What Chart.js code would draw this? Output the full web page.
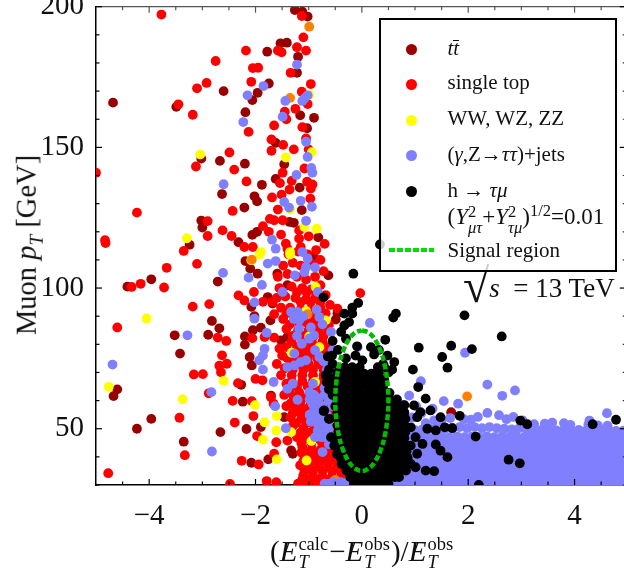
<!DOCTYPE html>
<html>
<head>
<meta charset="utf-8">
<title>Muon pT vs MET fraction</title>
<script src="https://cdn.jsdelivr.net/npm/chart.js@4/dist/chart.umd.min.js"></script>
<style>
  html, body { margin: 0; padding: 0; background: #fff; overflow: hidden; }
  #wrap { position: relative; width: 624px; height: 573px; overflow: hidden; font-family: 'Liberation Serif', serif; color: #111; }
  #plot { position: absolute; left: 0; top: 0; }
  .abs { position: absolute; white-space: nowrap; line-height: 1; }
  #legend { position: absolute; left: 379px; top: 18px; width: 234px; height: 250px; border: 2.5px solid #000; background: rgba(255,255,255,0.8); }
  .dot { position: absolute; width: 11px; height: 11px; border-radius: 50%; left: 25px; }
  .row { position: absolute; left: 66.5px; font-size: 21px; line-height: 1; white-space: nowrap; }
  .dash { position: absolute; left: 8px; top: 228px; width: 45px; height: 4px; background: repeating-linear-gradient(90deg, #00dd00 0, #00dd00 6px, transparent 6px, transparent 8px); }
  .stack { display: inline-block; vertical-align: -0.5em; font-size: 0.72em; line-height: 0.95; text-align: left; }
  .stack span { display: block; }
  .big { font-size: 18.5px; vertical-align: -7px; margin-left: 1px; margin-right: 1px; }
  .met { position: relative; display: inline-block; }
  .met b { position: absolute; left: 2px; top: 0; font-weight: normal; font-style: normal; }
  .bar { display: inline-block; line-height: 0.72; border-top: 1px solid #111; }
  sup { font-size: 0.72em; line-height: 0; }
  sub { font-size: 0.68em; line-height: 0; }
</style>
</head>
<body>
<div id="wrap">
  <canvas id="plot" width="624" height="573"></canvas>

  <div class="abs" id="ytitle" style="left:27px;top:245px;font-size:28.5px;transform:translate(-50%,-50%) rotate(-90deg);"></div>
  <div class="abs" id="xtitle" style="left:270px;top:536px;font-size:29px;"></div>
  <div class="abs" id="energy" style="left:463px;top:275px;font-size:27px;"><span style="font-size:48px;line-height:0;position:relative;top:5px;">√</span><i>s</i>&nbsp; = 13 TeV</div>

  <div id="legend">
    <span class="dot" style="top:24px;background:#990000"></span><div class="row" style="top:18px"><i>t<span class="bar">t</span></i></div>
    <span class="dot" style="top:59px;background:#ff0000"></span><div class="row" style="top:52px">single top</div>
    <span class="dot" style="top:95px;background:#ffff00"></span><div class="row" style="top:88px">WW, WZ, ZZ</div>
    <span class="dot" style="top:130px;background:#8080ff"></span><div class="row" style="top:124px">(<i>γ</i>,Z→<i>ττ</i>)+jets</div>
    <span class="dot" style="top:166px;background:#000"></span><div class="row" style="top:160px">h → <i>τμ</i></div>
    <div class="row" style="top:184px;font-size:23px">(<i>Y</i><span class="stack"><span>2</span><span><i>μτ</i></span></span>+<i>Y</i><span class="stack"><span>2</span><span><i>τμ</i></span></span>)<sup>1/2</sup>=0.01</div>
    <span class="dash"></span><div class="row" style="top:220px">Signal region</div>
  </div>
</div>

<script>
// Axis setup
var xRange = [-5, 4.93];
var yRange = [30, 200];
var xTickValues = [-4, -2, 0, 2, 4];
var yTickValues = [50, 100, 150, 200];
var xMinorTicks = [-4.5, -3.5, -3, -2.5, -1.5, -1, -0.5, 0.5, 1, 1.5, 2.5, 3, 3.5, 4.5];
var yMinorTicks = [30, 40, 60, 70, 80, 90, 110, 120, 130, 140, 160, 170, 180, 190];

// Points as [x, y]
var ttbar = [
  [-4.68,165.9],[-3.49,164.4],[-2.6,170],[-2.67,145.2],[-2.2,144.2],[-3.02,146],[-1.88,136.7],[-2.63,133.4],
  [-2.02,132.6],[-1.97,130.8],[-2.21,128.6],[-3.02,124],[-3,121.5],[-3.24,115.4],[-2.32,116.3],[-2.06,118.9],
  [-1.97,120],[-1.53,187],[-1.41,187.2],[-1.78,184],[-1.2,182.2],[-1.26,198.8],[-1.12,198.2],[-1.02,196.5],
  [-1.22,176.5],[-1.75,172.7],[-1.96,169.4],[-2.06,166.8],[-2.19,162.5],[-1.16,161.4],[-0.9,160.5],[-1.03,156.8],
  [-1.62,151.6],[-1.46,144],[-1.62,138.8],[-1.17,135.7],[-1.13,127.7],[-1.28,123.2],[-1.36,123.5],[-0.82,118],
  [-2.71,102.3],[-3.96,103.1],[-4.41,100.5],[-0.63,104.5],[-2.82,88.3],[-2.68,85.7],[-3.52,83.2],[-2.89,83.4],
  [-3.42,76.7],[-4.6,64],[-4.67,61.6],[-3.96,53.5],[-4.23,50],[-3.35,45.4],[-2.66,48.8],[-2.17,49.9],
  [-2.24,59.6],[-2.27,65.6],[-2.08,37.9],[-1.76,39.1],[-1.33,42.3],[-1.3,41.1],[-2.19,109.6],[-2.1,106.9],
  [-1.96,105.1],[-1.59,105.1],[-1.4,101],[-1.77,96.8],[-1.68,94.5],[-2.08,93.3],[-2.02,90],[-1.72,88.5],
  [-2.05,85],[-1.9,85.9],[-2.2,82.8],[-2.2,79.9],[-2.11,75.5],[-2.07,72.5],[-0.49,88.8],[-1.52,81.4],
  [-1.4,82.6],[-1.71,61.8],[-1.9,50.6],[-0.9,111],[-1.46,54.1],[-0.77,38.7],[1.68,55.9],[-0.46,91]
];
var singleTop = [
  [-3.77,197.2],[-2.18,184.4],[-2.75,180.7],[-1.58,184.4],[-1.51,183.8],[-1.22,185.6],[-1.05,184.4],[-1.1,189.1],
  [-1.13,196.7],[-2.05,178.2],[-1.95,178.3],[-1.34,176.5],[-2.08,173.3],[-2.92,172.9],[-3.1,171],[-0.96,172.5],
  [-1.13,169.8],[-3.45,165.3],[-3.18,161.6],[-1.02,165.4],[-1.25,163.7],[-1.45,162.7],[-1.42,160],[-1.65,157.8],
  [-1.12,157.2],[-2.13,155.5],[-1.7,152.8],[-1.48,150.9],[-1.28,149.3],[-1.7,148.8],[-1.05,153.2],[-1,149.3],
  [-2.49,148.2],[-3.12,143.2],[-2.4,142.1],[-1.49,141],[-1.08,142.5],[-2.17,137.9],[-1.32,138.1],[-1.54,137.3],
  [-1.03,137.8],[-0.93,136.8],[-1.36,135],[-1.51,133.2],[-0.96,135.4],[-1.69,132.2],[-0.97,131.8],[-2.43,127.4],
  [-1.58,127.9],[-4.23,126.8],[-1.73,124.6],[-1.65,124.1],[-1.49,124.1],[-2.9,123.8],[-1.86,122],[-2.62,120.5],
  [-1.75,120],[-2.9,118.5],[-2.45,118.5],[-1.52,119],[-1,118.4],[-1.18,117.6],[-0.7,115.7],[-1.43,115.8],
  [-2.21,114.6],[-2.05,114.6],[-3.35,113.2],[-4.83,117],[-4.82,116],[-5,141],[-1.18,120.5],[-1.15,114.6],[-1.4,114],
  [-3.1,108.6],[-3.67,107.2],[-4.33,100.4],[-4.16,101.5],[-3.72,100.2],[-3.18,93.4],[-2.87,94.3],[-4.6,86],
  [-2.71,82.4],[-2.55,81.2],[-2.06,82.2],[-2.63,76.1],[-2.68,72.4],[-2.54,73.1],[-3.16,69.3],[-2.99,69.4],
  [-2.65,70.1],[-2.33,66.2],[-2.88,62.6],[-2.43,59.9],[-2,67.7],[-1.87,67.2],[-2.07,59.8],[-2.04,54.5],
  [-3.43,53.9],[-2.39,52.2],[-1.97,47.4],[-3.33,40.6],[-4.77,34.2],[-2.26,38.6],[-1.94,37.3],[-2.48,30.4],
  [-1.79,31.4],[-1.61,31],[-2.32,97.4],[-2.21,95.6],[-2.03,98.6],[-1.86,95.1],[-1.68,95.1],[-1.65,90.7],
  [-1.83,82.6],[-1.65,82.4],[-1.71,61.2],[-1.66,58.9],[-1.61,45.2],[-1.65,41.1],[-1.4,45.8],[-0.03,98.2],[-0.46,92.7],
  // dense column
  [-1.38,112],[-1.2,113],[-1.02,112],[-0.86,113.5],[-1.48,108],[-1.3,109],[-1.15,108],[-0.92,108.5],[-0.78,110],
  [-1.58,104],[-1.4,105],[-1.22,104],[-1.05,103],[-0.88,104],[-0.72,106],[-1.55,100],[-1.32,100.5],[-1.12,100],[-0.95,99.5],[-0.78,101],
  [-1.6,96.5],[-1.44,97],[-1.25,96.5],[-1.05,96],[-0.88,96.5],[-0.68,97.5],[-1.52,93],[-1.35,93],[-1.15,92.5],[-0.96,92.5],[-0.78,93],[-0.6,94],
  [-1.48,89],[-1.28,89.5],[-1.1,88.5],[-0.92,88.5],[-0.72,89],[-1.42,85.5],[-1.2,85],[-1,85],[-0.82,85],[-0.64,85.5],
  [-1.55,78.5],[-1.32,81],[-1.12,81],[-0.94,81],[-0.74,81],[-1.12,77],[-0.94,77],[-0.74,77.5],[-1.5,76],[-1.32,74],
  [-1.6,73],[-1.45,71.5],[-1.2,73],[-1,73],[-0.82,73],[-0.62,73],[-1.52,69],[-1.32,69],[-1.12,69],[-0.92,69],[-0.72,69],
  [-1.42,66],[-1.22,65],[-1.02,65],[-0.84,65],[-0.64,65],[-1.46,62],[-1.28,61],[-1.08,61],[-0.88,60.5],[-0.68,61],
  [-1.42,58],[-1.24,57.5],[-1.06,57],[-0.86,57],[-0.66,57],[-1.34,54],[-1.14,53.5],[-0.96,53.5],[-0.76,53.5],[-0.56,54],
  [-1.3,51],[-1.1,50],[-0.9,50],[-0.7,50],[-0.54,50],[-1.22,47],[-1.04,46.5],[-0.84,46.5],[-0.64,46.5],
  [-1.12,43.5],[-0.94,43],[-0.76,43],[-0.58,43],[-1.06,40],[-0.88,40],[-0.7,40],[-0.52,40],[-0.38,39],
  [-1.16,37],[-1,37],[-0.82,36.5],[-0.64,36.5],[-0.46,36.5],[-0.32,36],[-1.1,33.5],[-0.92,33.5],[-0.74,33],[-0.56,33],[-0.38,33],
  [-1.2,30.5],[-1.02,30.5],[-0.84,30.5],[-0.66,30.5],[-0.48,30.5],[-0.3,30.5],[0.72,30.2],[1.2,30.2],
  [-1.12,32],[-0.95,32],[-0.78,32],[-0.6,32],[-0.44,32],[-1.08,35],[-0.92,35],[-0.74,35],[-0.56,35],[-0.4,35],
  [-1.1,38.5],[-0.94,38.5],[-0.78,38.5],[-0.6,38.5],[-0.44,38.5],[-1.14,41.5],[-0.98,41.5],[-0.82,41.5],[-0.64,41.5],[-0.46,41.5],
  [-1.14,45],[-0.95,45],[-0.75,45],[-0.56,45],[-1.16,48.5],[-1,48.5],[-0.8,48.5],[-0.62,48.5],
  [-1.24,52],[-1.04,52],[-0.86,52],[-0.66,52],[-1.3,55.5],[-1.15,55.5],[-0.96,55.5],[-0.76,55.5],[-0.58,55.5],
  [-1.34,59],[-1.16,59],[-0.96,59],[-0.78,59],[-1.36,63],[-1.18,63],[-0.98,63],[-0.78,63],
  [-1.32,67],[-1.12,67],[-0.92,67],[-0.74,67],[-1.3,71],[-1.1,71],[-0.92,71],[-0.72,71],
  [-1.4,75],[-1.22,75],[-1.02,75],[-0.84,75],[-0.64,75],[-1.42,79],[-1.22,79],[-1.02,79],[-0.84,79],[-0.64,79],
  [-1.3,83],[-1.1,83],[-0.9,83],[-0.72,83],[-1.36,87],[-1.18,87],[-1,87],[-0.8,87],[-0.62,87],
  [-1.42,91],[-1.22,91],[-1.04,91],[-0.86,91],[-0.68,91],[-1.15,95],[-0.96,95],[-0.78,95],[-1.22,98.5],[-1.04,98.5],[-0.86,98.5]
];
var diboson = [
  [-3.04,147.5],[-3.29,117.7],[-1.43,146.4],[-0.94,148.3],[-0.99,168.6],[-1.35,127.9],[-1.08,121.7],[-0.85,121.1],
  [-1.35,112.8],[-1.9,112.8],[-1.92,111.9],[-2.08,109.9],[-1.35,111.9],[-0.87,100.4],[-1.05,91.9],[-0.68,88.5],
  [-0.99,82.8],[-0.8,79],[-1.32,77],[-4.05,89.2],[-2.6,67],[-4.76,64.9],[-3.37,60.5],[-0.88,66.6],
  [-2.01,58.4],[-1.6,54.5],[-1.83,52.3],[-1.61,49.4],[-1.33,48.8],[-1.86,46.1],[-0.95,45.6],[-1.6,39.1],[-1.04,38.7]
];
var otherBkg = [
  [-0.99,192.9],[-1.35,167.6],[-2.07,110.1],[-1.02,90.7],[-0.5,31.8],[1.98,61.5]
];
var zJets = [
  [-1.22,179.4],[-1.85,171.8],[-2.15,168.5],[-1.44,166.5],[-1.12,166.5],[-1.02,168.5],[-1.08,167.4],[-1.49,160.9],
  [-2.23,159],[-1.05,152],[-1.02,146.6],[-0.95,142.7],[-0.93,141],[-1.23,140.2],[-2.6,136.9],[-1.46,130.6],
  [-1.37,128.6],[-1.15,131],[-0.94,128.9],[-1.05,123.9],[-1.69,117.2],[-1.62,114],[-1.12,112.8],
  [-2.61,105.4],[-2.13,103.7],[-1.88,101.1],[-1.49,98.6],[-2.02,94.9],[-2.02,89.1],[-1.79,84.1],[-3.28,83.2],
  [-4.69,72.8],[-2.83,63],[-1.63,58],[-1.43,50.2],[-2.82,41.9],[-1.83,78.4],[-1.86,76],[-1.93,74.3],[-1.86,71],
  [-1.66,66.6],[-1.77,108.7],[-1.62,109.6],[-1.02,110.5],[-1.05,107.5],[-1.08,105.7],[-0.88,107.3],[-1.26,104.5],
  [-0.83,98.6],[-1.33,91.5],[-1.21,91.5],[-1.18,88.5],[-1.18,85.6],[-0.85,92.3],[-0.8,89.7],[-0.74,87.1],
  [-0.9,83.2],[-0.99,82],[-1.13,80.2],[-0.58,84.4],[-1.27,76.7],[-1.4,71.9],[-1.27,72.5],[-1.15,73.7],[-1.05,74.3],
  [-0.88,77.9],[-0.8,75.5],[-0.55,77.9],[-1.3,66],[-1.4,64.2],[-1.21,60.3],[-0.99,63],[-0.93,58.9],[-0.86,61.2],
  [-0.83,56.5],[-0.9,54.1],[-0.77,53],[-0.83,49.4],[-0.68,49.4],[-0.74,41.7],[-0.63,30.4],[-0.46,30.4],[-0.28,31],
  [-0.65,69.5],[-0.62,67.2],[0.15,87.6],[1.94,77],[1.11,66.9],[2.36,65.7],[2.64,61.7],[2.88,63.6],[1.54,59.8],
  [1.81,58.9],[0.89,61.8],[1.33,57.1],[4.28,52.9],[4.61,55.5],[4.62,51.1],[-0.72,74],[-0.66,71],[-0.7,64.5],
  [-0.62,60],[-0.7,47],[-0.62,44.5],[-0.55,58],[-0.52,62],[-0.08,79],
  [-0.98,60.5],[-0.9,62],[-0.82,60],[-0.74,58],[-0.9,56.5],[-0.78,55],[-0.98,55],[-0.66,55],[-0.72,52],[-0.84,52],
  [-0.96,52.5],[-0.76,47],[-0.88,47],[-0.64,52],[-0.6,64],[-0.7,62],[-0.62,50],[-0.56,47],[-0.92,66],[-0.7,74],
  [-1.22,83],[-1.28,89],[-1.1,90],[-0.96,86],[-0.7,30.5],[-0.55,31],[-0.4,31],[-0.2,31],
  // dense band at low pT
  [0.6,31],[0.74,31],[0.88,31],[1.02,31],[1.16,31],[1.3,31],[1.44,31],[1.58,31],[1.72,31],[1.86,31],[2,31],[2.14,31],[2.28,31],[2.42,31],[2.56,31],[2.7,31],[2.84,31],[2.98,31],[3.12,31],[3.26,31],[3.4,31],[3.54,31],[3.68,31],[3.82,31],[3.96,31],[4.1,31],[4.24,31],[4.38,31],[4.52,31],[4.66,31],[4.8,31],[4.94,31],
  [0.67,33.3],[0.81,33.3],[0.95,33.3],[1.09,33.3],[1.23,33.3],[1.37,33.3],[1.51,33.3],[1.65,33.3],[1.79,33.3],[1.93,33.3],[2.07,33.3],[2.21,33.3],[2.35,33.3],[2.49,33.3],[2.63,33.3],[2.77,33.3],[2.91,33.3],[3.05,33.3],[3.19,33.3],[3.33,33.3],[3.47,33.3],[3.61,33.3],[3.75,33.3],[3.89,33.3],[4.03,33.3],[4.17,33.3],[4.31,33.3],[4.45,33.3],[4.59,33.3],[4.73,33.3],[4.87,33.3],
  [0.74,35.6],[0.88,35.6],[1.02,35.6],[1.16,35.6],[1.3,35.6],[1.44,35.6],[1.58,35.6],[1.72,35.6],[1.86,35.6],[2,35.6],[2.14,35.6],[2.28,35.6],[2.42,35.6],[2.56,35.6],[2.7,35.6],[2.84,35.6],[2.98,35.6],[3.12,35.6],[3.26,35.6],[3.4,35.6],[3.54,35.6],[3.68,35.6],[3.82,35.6],[3.96,35.6],[4.1,35.6],[4.24,35.6],[4.38,35.6],[4.52,35.6],[4.66,35.6],[4.8,35.6],[4.94,35.6],
  [0.81,37.9],[0.95,37.9],[1.09,37.9],[1.23,37.9],[1.37,37.9],[1.51,37.9],[1.65,37.9],[1.79,37.9],[1.93,37.9],[2.07,37.9],[2.21,37.9],[2.35,37.9],[2.49,37.9],[2.63,37.9],[2.77,37.9],[2.91,37.9],[3.05,37.9],[3.19,37.9],[3.33,37.9],[3.47,37.9],[3.61,37.9],[3.75,37.9],[3.89,37.9],[4.03,37.9],[4.17,37.9],[4.31,37.9],[4.45,37.9],[4.59,37.9],[4.73,37.9],[4.87,37.9],
  [0.88,40.2],[1.02,40.2],[1.16,40.2],[1.3,40.2],[1.44,40.2],[1.58,40.2],[1.72,40.2],[1.86,40.2],[2,40.2],[2.14,40.2],[2.28,40.2],[2.42,40.2],[2.56,40.2],[2.7,40.2],[2.84,40.2],[2.98,40.2],[3.12,40.2],[3.26,40.2],[3.4,40.2],[3.54,40.2],[3.68,40.2],[3.82,40.2],[3.96,40.2],[4.1,40.2],[4.24,40.2],[4.38,40.2],[4.52,40.2],[4.66,40.2],[4.8,40.2],[4.94,40.2],
  [0.95,42.5],[1.09,42.5],[1.23,42.5],[1.37,42.5],[1.51,42.5],[1.65,42.5],[1.79,42.5],[1.93,42.5],[2.07,42.5],[2.21,42.5],[2.35,42.5],[2.49,42.5],[2.63,42.5],[2.77,42.5],[2.91,42.5],[3.05,42.5],[3.19,42.5],[3.33,42.5],[3.47,42.5],[3.61,42.5],[3.75,42.5],[3.89,42.5],[4.03,42.5],[4.17,42.5],[4.31,42.5],[4.45,42.5],[4.59,42.5],[4.73,42.5],[4.87,42.5],
  [0.98,44.8],[1.12,44.8],[1.26,44.8],[1.4,44.8],[1.54,44.8],[1.68,44.8],[1.82,44.8],[1.96,44.8],[2.1,44.8],[2.24,44.8],[2.38,44.8],[2.52,44.8],[2.66,44.8],[2.8,44.8],[2.94,44.8],[3.08,44.8],[3.22,44.8],[3.36,44.8],[3.5,44.8],[3.64,44.8],[3.78,44.8],[3.92,44.8],[4.06,44.8],[4.2,44.8],[4.34,44.8],[4.48,44.8],[4.62,44.8],[4.76,44.8],[4.9,44.8],
  [0.95,47.1],[1.09,47.1],[1.23,47.1],[1.37,47],[1.51,47.2],[1.65,47],[1.79,47.3],[1.93,47],[2.07,47.2],[2.21,47],[2.35,47.3],[2.49,47],[2.63,47.2],[2.77,47],[2.91,47.2],[3.05,47],[3.19,47.2],[3.33,47],[3.47,47.1],[3.61,47],[3.75,47.2],[3.89,47],[4.03,47.2],[4.17,47],[4.31,47.2],[4.45,47],[4.59,47.1],[4.73,47],[4.87,47.1],
  [1,49.5],[1.14,49.8],[1.28,50],[1.42,50.2],[1.56,50],[1.7,50.4],[1.84,50.6],[1.98,50.2],[2.12,50.6],[2.26,50.2],[2.4,50.6],[2.54,50.2],[2.68,50],[2.82,49.8],[2.96,50.2],[3.1,49.6],[3.24,49.4],[3.38,49.6],[3.52,49.8],[3.66,49.4],[3.8,49.6],[3.94,49.2],[4.08,49.6],[4.22,49.4],[4.36,49.2],[4.5,49.4],[4.64,49.6],[4.78,49.2],[4.92,49.3],
  [1.2,52],[1.36,53],[1.5,53.2],[1.66,53.8],[1.92,53.4],[2.05,53.2],[2.18,54.2],[2.36,55.6],[2.58,54.8],[2.72,53.4],[2.85,54.2],[3.02,53],[3.24,51.6],[3.44,51.8],[3.58,52.2],[3.8,52],[3.92,51.4],[4.26,51.5],[4.44,51.2],[0.95,54],[1.12,55.5],
  [1.02,58],[0.78,58.5],[0.7,53],[0.6,48],[0.7,40]
];
var signal = [
  [0.34,115.5],
  [-0.16,105.1],[-0.72,96.7],[-0.72,56.3],[-0.62,53.5],[-0.07,94.7],[-0.18,93],[-0.33,90.9],[-0.18,90.9],[0.64,90.9],[0.59,89.5],
  [1.93,90.3],[2.63,82.8],[-0.33,86.7],[-0.39,84.4],[-0.24,87.9],[0.44,81.6],[1.07,78.8],[1.68,79.5],[1.51,75.5],[1.61,71.7],
  [2.07,78.3],[-0.09,79.3],[0.17,79],[0.23,76.4],[-0.55,81.2],[-0.64,75.7],[0.96,71],[1.06,64.8],[1.2,60.7],[0.61,73.7],
  [0.57,71],[0.48,76],[0.01,74.3],[-0.71,56.5],[-0.61,53.5],[1.84,54.6],[2.98,52.9],[3.11,51.6],[4.34,51.6],[4.78,53.2],
  [2.14,47.2],[2.76,39],[2.97,37.7],[2.2,30],[1.7,50.2],[1.56,50.5],[1.39,49.4],[1.23,50],[1.48,54.1],[1.39,44.4],[1.48,42.2],
  [1.61,39.9],[1.36,34.9],[1.2,35.1],[1.01,36.3],[1.14,44.6],[1.04,41.1],[0.92,37.5],[0.7,32.8],[0.98,58.3],[1.1,55.9],
  [1.29,56.5],[1.04,54.1],[0.92,50.5],[1.01,47],[-0.55,73],[-0.62,71],[-0.68,69],[-0.58,68],[-0.62,64],[-0.55,62],[-0.58,47],[-0.52,44],[-0.47,41],[-0.38,37.5],[-0.66,66.5],
  [-0.45,78],[-0.3,82],[0.32,78],[0.4,73],[0.5,70],[-0.12,76],[-0.3,75],[-0.52,66],[-0.56,76],[-0.46,70],[-0.5,58],
  // central mass
  [-0.15,30.5],[-0.01,30.5],[0.13,30.5],[0.27,30.5],[0.41,30.5],[0.5,30.5],
  [-0.22,32.8],[-0.08,32.8],[0.06,32.8],[0.2,32.8],[0.34,32.8],[0.48,32.8],[0.62,32.8],
  [-0.29,35.1],[-0.15,35.1],[-0.01,35.1],[0.13,35.1],[0.27,35.1],[0.41,35.1],[0.55,35.1],[0.69,35.1],[0.83,35.1],
  [-0.36,37.4],[-0.22,37.4],[-0.08,37.4],[0.06,37.4],[0.2,37.4],[0.34,37.4],[0.48,37.4],[0.62,37.4],[0.76,37.4],
  [-0.4,39.7],[-0.26,39.7],[-0.12,39.7],[0.02,39.7],[0.16,39.7],[0.3,39.7],[0.44,39.7],[0.58,39.7],[0.72,39.7],[0.86,39.7],
  [-0.42,42],[-0.28,42],[-0.14,42],[0,42],[0.14,42],[0.28,42],[0.42,42],[0.56,42],[0.7,42],[0.84,42],
  [-0.44,44.3],[-0.3,44.3],[-0.16,44.3],[-0.02,44.3],[0.12,44.3],[0.26,44.3],[0.4,44.3],[0.54,44.3],[0.68,44.3],[0.82,44.3],[0.92,44],
  [-0.46,46.6],[-0.32,46.6],[-0.18,46.6],[-0.04,46.6],[0.1,46.6],[0.24,46.6],[0.38,46.6],[0.52,46.6],[0.66,46.6],[0.8,46.6],
  [-0.44,48.9],[-0.3,48.9],[-0.16,48.9],[-0.02,48.9],[0.12,48.9],[0.26,48.9],[0.4,48.9],[0.54,48.9],[0.68,48.9],[0.82,48.9],
  [-0.46,51.2],[-0.32,51.2],[-0.18,51.2],[-0.04,51.2],[0.1,51.2],[0.24,51.2],[0.38,51.2],[0.52,51.2],[0.66,51.2],[0.8,51.2],
  [-0.44,53.5],[-0.3,53.5],[-0.16,53.5],[-0.02,53.5],[0.12,53.5],[0.26,53.5],[0.4,53.5],[0.54,53.5],[0.68,53.5],[0.82,53.5],
  [-0.46,55.8],[-0.32,55.8],[-0.18,55.8],[-0.04,55.8],[0.1,55.8],[0.24,55.8],[0.38,55.8],[0.52,55.8],[0.66,55.8],[0.8,55.8],
  [-0.44,58.1],[-0.3,58.1],[-0.16,58.1],[-0.02,58.1],[0.12,58.1],[0.26,58.1],[0.4,58.1],[0.54,58.1],[0.68,58.1],[0.8,58.4],
  [-0.46,60.4],[-0.32,60.4],[-0.18,60.4],[-0.04,60.4],[0.1,60.4],[0.24,60.4],[0.38,60.4],[0.52,60.4],[0.66,60.4],
  [-0.44,62.7],[-0.3,62.7],[-0.16,62.7],[-0.02,62.7],[0.12,62.7],[0.26,62.7],[0.4,62.7],[0.52,62.7],
  [-0.44,65],[-0.3,65],[-0.16,65],[-0.02,65],[0.12,65],[0.26,65],[0.4,65],
  [-0.42,67.3],[-0.28,67.3],[-0.14,67.3],[0,67.3],[0.14,67.3],[0.28,67.3],[0.42,67.3],
  [-0.38,69.6],[-0.24,69.6],[-0.1,69.6],[0.04,69.6],[0.18,69.6],[0.32,69.6],
  [-0.32,71.9],[-0.18,71.9],[-0.04,71.9],[0.3,71.9],[0.42,72]
];
// Signal region outline
var regionEdge = [
  [0,85],[0.13,84.1],[0.25,81.6],[0.35,77.7],[0.43,72.6],[0.48,66.5],[0.5,60],[0.48,53.5],[0.43,47.4],[0.35,42.3],[0.25,38.4],[0.13,35.9],
  [0,35],[-0.13,35.9],[-0.25,38.4],[-0.35,42.3],[-0.43,47.4],[-0.48,53.5],[-0.5,60],[-0.48,66.5],[-0.43,72.6],[-0.35,77.7],[-0.25,81.6],[-0.13,84.1],[0,85]
];

function toXY(list) {
  return list.map(function (p) { return { x: p[0], y: p[1] }; });
}

function dotSet(label, list, color) {
  return {
    label: label,
    data: toXY(list),
    backgroundColor: color,
    borderWidth: 0,
    pointRadius: 4.9,
    pointHoverRadius: 4.9
  };
}

// Inward ticks on all four sides, the library only does outward ones
var frameTicks = {
  id: 'frameTicks',
  afterDatasetsDraw: function (chart) {
    var c = chart.ctx, a = chart.chartArea, xs = chart.scales.x, ys = chart.scales.y;
    function seg(x1, y1, x2, y2, col) {
      c.strokeStyle = col;
      c.beginPath(); c.moveTo(x1, y1); c.lineTo(x2, y2); c.stroke();
    }
    c.save();
    c.lineWidth = 1.2;
    seg(a.left, a.top, a.right, a.top, '#555');
    xTickValues.forEach(function (v) {
      var p = xs.getPixelForValue(v);
      seg(p, a.bottom, p, a.bottom - 6, '#000');
      seg(p, a.top, p, a.top + 6, '#555');
    });
    xMinorTicks.forEach(function (v) {
      var p = xs.getPixelForValue(v);
      seg(p, a.bottom, p, a.bottom - 3.5, '#000');
      seg(p, a.top, p, a.top + 3.5, '#555');
    });
    var rightEdge = xs.getPixelForValue(5);
    yTickValues.forEach(function (v) {
      var p = ys.getPixelForValue(v);
      seg(a.left, p, a.left + 6, p, '#000');
      seg(rightEdge, p, rightEdge - 8, p, '#000');
    });
    yMinorTicks.forEach(function (v) {
      var p = ys.getPixelForValue(v);
      seg(a.left, p, a.left + 3.5, p, '#000');
      seg(rightEdge, p, rightEdge - 5, p, '#333');
    });
    c.restore();
  }
};

new Chart(document.getElementById('plot').getContext('2d'), {
  type: 'scatter',
  data: {
    datasets: [
      {
        label: 'Signal region',
        data: toXY(regionEdge),
        showLine: true,
        tension: 0.4,
        borderColor: '#00bb00',
        borderWidth: 4.5,
        borderDash: [6, 2.5],
        pointRadius: 0,
        fill: false
      },
      dotSet('h to tau mu', signal, '#000000'),
      dotSet('jets', zJets, '#8080ff'),
      dotSet('other', otherBkg, '#ff8000'),
      dotSet('WW, WZ, ZZ', diboson, '#ffff00'),
      dotSet('single top', singleTop, '#ff0000'),
      dotSet('ttbar', ttbar, '#990000')
    ]
  },
  plugins: [frameTicks],
  options: {
    responsive: false,
    animation: false,
    // autoPadding keeps room for the point radius, the frame has to run to the edge
    layout: { autoPadding: false, padding: { top: 6.7, right: 0, left: 0, bottom: 0 } },
    plugins: { legend: { display: false }, tooltip: { enabled: false } },
    scales: {
      x: {
        type: 'linear',
        min: xRange[0],
        max: xRange[1],
        grid: { display: false },
        border: { color: '#000', width: 1.5 },
        afterBuildTicks: function (s) { s.ticks = xTickValues.map(function (v) { return { value: v }; }); },
        afterFit: function (s) { s.height = 88; s.paddingLeft = 0; s.paddingRight = 0; },
        ticks: {
          autoSkip: false,
          maxRotation: 0,
          padding: 6,
          color: '#111',
          font: { family: "'Liberation Serif', serif", size: 29 },
          callback: function (v) { return v < 0 ? '\u2212' + Math.abs(v) : String(v); }
        }
      },
      y: {
        type: 'linear',
        min: yRange[0],
        max: yRange[1],
        grid: { display: false },
        border: { color: '#000', width: 1.5 },
        afterBuildTicks: function (s) { s.ticks = yTickValues.map(function (v) { return { value: v }; }); },
        afterFit: function (s) { s.width = 96; s.paddingTop = 0; s.paddingBottom = 0; },
        ticks: {
          autoSkip: false,
          padding: 4,
          color: '#111',
          font: { family: "'Liberation Serif', serif", size: 29 }
        }
      }
    }
  }
});

document.getElementById('ytitle').innerHTML = 'Muon <i>p<sub>T</sub></i> [GeV]';

function metTerm(sup) {
  return '<span class="met"><i>E</i><b>/</b></span><span class="stack big"><span>' + sup + '</span><span><i>T</i></span></span>';
}
document.getElementById('xtitle').innerHTML = '(' + metTerm('calc') + '\u2212' + metTerm('obs') + ')/' + metTerm('obs');
</script>
</body>
</html>
